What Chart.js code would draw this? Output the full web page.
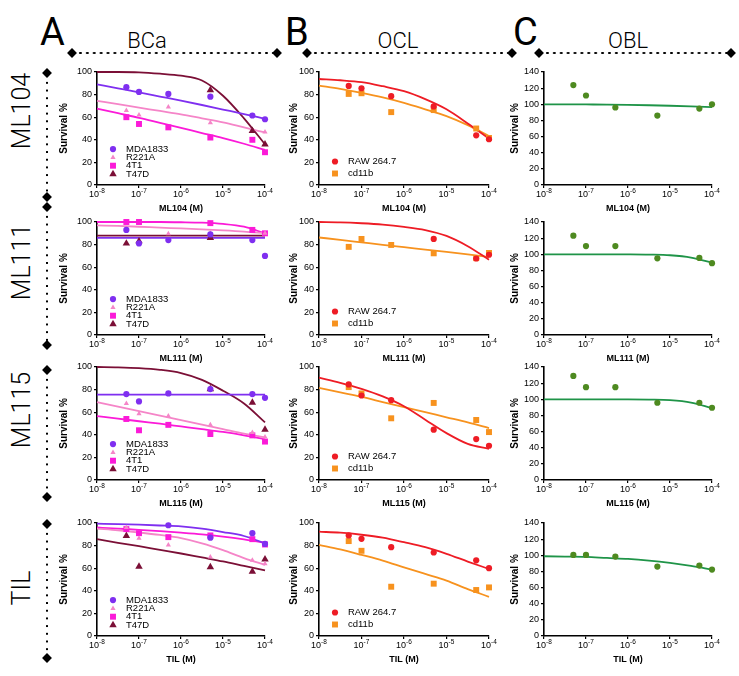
<!DOCTYPE html>
<html>
<head>
<meta charset="utf-8">
<script src="https://cdn.jsdelivr.net/npm/chart.js@4.4.1/dist/chart.umd.min.js"></script>
<style>
  html, body { margin: 0; padding: 0; background: #fff; }
  #fig { position: relative; width: 739px; height: 676px; overflow: hidden; font-family: "Liberation Sans", Arial, sans-serif; }
  .letter { position: absolute; top: 13px; font-family: Roboto, "Liberation Sans", sans-serif; font-size: 38px; line-height: 1; }
  .colhead { position: absolute; top: 40px; font-family: Roboto, "Liberation Sans", sans-serif; font-weight: 300; font-size: 22px; transform: translate(-50%, -50%); }
  .rowhead { position: absolute; left: 21px; font-family: Roboto, "Liberation Sans", sans-serif; font-weight: 300; font-size: 25px; line-height: 1; white-space: nowrap; transform: translate(-50%, -50%) rotate(-90deg); }
  .hdots { position: absolute; height: 4px; background: radial-gradient(circle, #000 1px, transparent 1.5px) 0 0 / 6.9px 4px repeat-x; }
  .vdots { position: absolute; width: 4px; background: radial-gradient(circle, #000 1px, transparent 1.5px) 0 0 / 4px 7.7px repeat-y; }
  .dia { position: absolute; width: 7px; height: 7px; background: #000; transform: translate(-50%, -50%) rotate(45deg); }
</style>
</head>
<body>
<div id="fig"></div>
<script>
// doses (M) and sample points of the fitted curves
const DOSES = [5e-8, 1e-7, 5e-7, 5e-6, 5e-5, 1e-4];
const FIT_X = [1e-8, 3.16e-8, 1e-7, 3.16e-7, 1e-6, 3.16e-6, 1e-5, 3.16e-5, 1e-4];
const X_TICKS = [1e-8, 1e-7, 1e-6, 1e-5, 1e-4];
const X_TICK_EXP = ['-8', '-7', '-6', '-5', '-4'];
const Y_TICKS_100 = [0, 20, 40, 60, 80, 100];
const Y_TICKS_140 = [0, 20, 40, 60, 80, 100, 120, 140];

const DRUGS = ['ML104', 'ML111', 'ML115', 'TIL'];
const PANEL_LETTERS = ['A', 'B', 'C'];
const CELL_GROUPS = ['BCa', 'OCL', 'OBL'];

// survival %, one row per drug (ML104, ML111, ML115, TIL); null = not visible
const MDA1833_PTS = [
  [86.6, 82.4, 80.6, 78.2, 61.5, 58.2],
  [93, 81, 84, 89, 84, 70],
  [76, 69.5, 76.6, 80.5, 76, 72.7],
  [null, null, 98, 87, 91, 81.5]
];
const MDA1833_FIT = [
  [89, 85.5, 82, 78.3, 74.6, 70.8, 66.8, 62.8, 58.6],
  [86, 86, 86, 86, 86, 86, 86, 86, 86],
  [75.5, 75.5, 75.5, 75.5, 75.5, 75.5, 75.5, 75.5, 75.5],
  [99.4, 99, 98.5, 97.8, 97, 95, 92, 88.5, 82]
];
const R221A_PTS = [
  [66, 62, 69, 55, null, 47],
  [null, null, 89.5, 90, null, 90],
  [67.7, 58.7, 56.6, 48.8, 42, 38],
  [96, 86.5, 80.6, 70, 67, 64]
];
const R221A_FIT = [
  [74.5, 71.5, 68.5, 65.5, 62.5, 59, 55.5, 51, 46.5],
  [97, 96.5, 95.8, 95, 94.3, 93.5, 92.6, 91.5, 90],
  [69, 65, 61, 57, 53, 49, 45, 41, 37.7],
  [95, 93.5, 91.6, 89.4, 86.6, 82, 76, 69, 63]
];
const T4T1_PTS = [
  [60, 54, 51, 42, 40, 29],
  [100, 100, null, 99, 93, 90],
  [54, 44, 48.8, 40.7, 39.5, 34],
  [94.6, 91, 87.5, 89, 85.7, 81]
];
const T4T1_FIT = [
  [67.5, 63.5, 59.5, 55, 50.5, 46, 41.5, 36.5, 31],
  [100, 100, 100, 100, 99.8, 99.4, 98.3, 95.8, 90],
  [56.6, 54.3, 52, 49.8, 47.4, 45, 42.5, 39.5, 36],
  [96, 95, 94, 92.8, 91.5, 90, 88, 85.5, 82.5]
];
const T47D_PTS = [
  [null, null, null, 84, 48, 36],
  [81, 83, null, 86, null, null],
  [null, null, null, 80.5, 68.6, 44.6],
  [88.7, 61.5, null, 61, 57, 67.8]
];
const T47D_FIT = [
  [100, 100, 99.7, 98.5, 96.7, 92.5, 79, 59, 36],
  [88, 88, 88, 88, 88, 88, 88, 88, 88],
  [100, 99.7, 99, 97.5, 94.6, 88.6, 79, 67.7, 51],
  [85.7, 82.5, 79.5, 76.2, 73, 69.5, 66, 62, 58]
];
const RAW_PTS = [
  [87.7, 85.6, 78.6, 69.5, 44, 40.5],
  [null, null, null, 85, 67.7, 71],
  [84.6, 74.8, 70.6, 44.5, 36.2, 30.3],
  [89, 86, 78.6, 73.9, 67, 60]
];
const RAW_FIT = [
  [93.8, 92.7, 91, 87.4, 83, 76, 67, 54.5, 41],
  [100, 99.7, 98.9, 97.7, 95.7, 92.9, 87.7, 78.6, 66.6],
  [90.5, 86, 80.7, 74, 65.3, 53.4, 41.5, 32, 27.6],
  [92.3, 91.4, 89.6, 87, 83, 78.6, 72.7, 65.9, 59.3]
];
const CD11B_PTS = [
  [80.6, 81.2, 64.5, 66.3, 50, 41.6],
  [78, 85, 79.7, 72.3, 68, 72.6],
  [82.2, 76.6, 54.6, 68.2, 53.1, 42.4],
  [84, 75.4, 43.6, 46.3, 40.7, 43]
];
const CD11B_FIT = [
  [88, 85, 81.5, 77.5, 72.7, 67, 61, 53, 43.4],
  [86.3, 84.2, 82, 79.8, 77.7, 75.6, 73.5, 71.3, 69],
  [81.6, 77.5, 73.5, 69, 64.5, 60, 55.5, 51, 46],
  [80.7, 76.6, 71.8, 66.8, 60.8, 54.9, 49, 41.5, 34.7]
];
const OBL_PTS = [
  [123.8, 110.9, 96, 86, 94.7, 100],
  [123, 110.2, 110.2, 95, 95.5, 89],
  [129, 115, 115, 95.7, 95.7, 89.5],
  [100.4, 100.4, 98.4, 86, 87.2, 82.3]
];
const OBL_FIT = [
  [100, 100, 99.8, 99.6, 99.3, 98.8, 98.2, 97.4, 96.5],
  [100, 100, 100, 100, 99.9, 99.6, 98.8, 96, 89.5],
  [100, 100, 100, 100, 99.9, 99.6, 98.9, 96, 89],
  [98.8, 98.4, 98, 96.7, 95.5, 93.4, 90.5, 86.8, 82.3]
];

const STYLE = {
  'MDA1833':   { color: '#7f2ff0', point: 'circle', r: 3.1 },
  'R221A':     { color: '#f585c8', point: 'triangle', r: 3 },
  '4T1':       { color: '#fb1ad8', point: 'rect', r: 4.2 },
  'T47D':      { color: '#7b0f36', point: 'triangle', r: 4.3 },
  'RAW 264.7': { color: '#ee1c25', point: 'circle', r: 3.1 },
  'cd11b':     { color: '#f7921e', point: 'rect', r: 4.2 },
  'OBL':       { color: '#4e8a20', line: '#1f9448', point: 'circle', r: 3.1 }
};

// layout of the plot areas
const COL_LEFT = [97, 319, 544];
const COL_WIDTH = [168, 170, 168];
const ROW_TOP = [72, 222, 367, 523];
const PLOT_H = 113;
const Y_BOX = 45, X_BOX = 32, PAD_TOP = 8, PAD_RIGHT = 14;
const Y_TITLE_PAD = [6, 14, 10];

const fig = document.getElementById('fig');
Chart.defaults.font.family = '"Liberation Sans", Arial, sans-serif';
Chart.defaults.color = '#000';

function el(cls, css, text) {
  const d = document.createElement('div');
  d.className = cls;
  d.style.cssText = css;
  if (text) d.textContent = text;
  fig.appendChild(d);
  return d;
}

// header letters, titles and dotted rules
[40, 285, 513].forEach((x, i) => el('letter', `left:${x}px`, PANEL_LETTERS[i]));
[147, 398, 628].forEach((x, i) => el('colhead', `left:${x}px`, CELL_GROUPS[i]));
[111, 262, 410, 588].forEach((y, i) => el('rowhead', `top:${y}px`, DRUGS[i]));
[[72, 277], [307, 512], [539, 731]].forEach(([a, b]) => {
  el('hdots', `left:${a + 5}px;top:51px;width:${b - a - 8}px`);
  el('dia', `left:${a}px;top:53px`);
  el('dia', `left:${b}px;top:53px`);
});
[[73, 197], [207, 345], [370, 497], [524, 658]].forEach(([a, b]) => {
  el('vdots', `left:45px;top:${a + 6}px;height:${b - a - 10}px`);
  el('dia', `left:47px;top:${a}px`);
  el('dia', `left:47px;top:${b}px`);
});

function seriesDatasets(name, pts, fit) {
  const st = STYLE[name];
  return [
    {
      type: 'scatter', label: name, inLegend: true,
      data: DOSES.map((x, i) => ({ x, y: pts[i] })).filter(p => p.y !== null),
      pointStyle: st.point, pointRadius: st.r, backgroundColor: st.color,
      borderWidth: 0, pointBorderWidth: 0, clip: false, order: 0
    },
    {
      type: 'line', label: name + ' fit',
      data: FIT_X.map((x, i) => ({ x, y: fit[i] })),
      borderColor: st.line || st.color, borderWidth: 1.8, pointRadius: 0,
      cubicInterpolationMode: 'monotone', fill: false, clip: false, order: 1
    }
  ];
}

function drawMarker(ctx, style, x, y, r, color) {
  ctx.save();
  ctx.fillStyle = color;
  ctx.beginPath();
  if (style === 'rect') {
    const s = Math.SQRT1_2 * r;
    ctx.rect(x - s, y - s, 2 * s, 2 * s);
  } else if (style === 'triangle') {
    for (let k = 0; k < 3; k++) {
      const a = k * 2 * Math.PI / 3;
      ctx[k ? 'lineTo' : 'moveTo'](x + Math.sin(a) * r, y - Math.cos(a) * r);
    }
    ctx.closePath();
  } else {
    ctx.arc(x, y, r, 0, 2 * Math.PI);
  }
  ctx.fill();
  ctx.restore();
}

// legend drawn inside the plot area, bottom left
const insideLegend = {
  id: 'insideLegend',
  afterDatasetsDraw(chart, args, opts) {
    if (!opts.show) return;
    const { ctx, chartArea } = chart;
    const items = chart.data.datasets.filter(d => d.inLegend);
    ctx.save();
    ctx.font = '9.5px "Liberation Sans", Arial, sans-serif';
    ctx.textBaseline = 'middle';
    items.forEach((d, i) => {
      const y = chartArea.bottom - opts.bottom - (items.length - 1 - i) * opts.step;
      drawMarker(ctx, d.pointStyle, chartArea.left + 16, y, d.pointRadius, d.backgroundColor);
      ctx.fillStyle = '#000';
      ctx.fillText(d.label, chartArea.left + 29, y);
    });
    ctx.restore();
  }
};

// "10" with a raised exponent under each decade tick
const decadeLabels = {
  id: 'decadeLabels',
  afterDraw(chart) {
    const { ctx } = chart;
    const s = chart.scales.x;
    ctx.save();
    ctx.fillStyle = '#000';
    ctx.textBaseline = 'alphabetic';
    X_TICKS.forEach((v, i) => {
      const px = s.getPixelForValue(v);
      ctx.font = '9px "Liberation Sans", Arial, sans-serif';
      const wBase = ctx.measureText('10').width;
      ctx.font = '6.5px "Liberation Sans", Arial, sans-serif';
      const wExp = ctx.measureText(X_TICK_EXP[i]).width;
      const x0 = px - (wBase + wExp) / 2;
      const base = s.top + 12;
      ctx.font = '9px "Liberation Sans", Arial, sans-serif';
      ctx.fillText('10', x0, base);
      ctx.font = '6.5px "Liberation Sans", Arial, sans-serif';
      ctx.fillText(X_TICK_EXP[i], x0 + wBase, base - 4);
    });
    ctx.restore();
  }
};

function makePanel(row, col, datasets, yMax, yTicks, legend) {
  const canvas = document.createElement('canvas');
  const w = Y_BOX + COL_WIDTH[col] + PAD_RIGHT;
  const h = PAD_TOP + PLOT_H + X_BOX;
  canvas.width = w;
  canvas.height = h;
  canvas.style.cssText = `position:absolute;left:${COL_LEFT[col] - Y_BOX}px;top:${ROW_TOP[row] - PAD_TOP}px;width:${w}px;height:${h}px`;
  fig.appendChild(canvas);

  const axisGrid = { display: true, drawOnChartArea: false, drawTicks: true, tickLength: 3, color: '#000', lineWidth: 1.2 };
  new Chart(canvas, {
    data: { datasets },
    options: {
      responsive: false,
      animation: false,
      events: [],
      layout: { padding: { top: PAD_TOP, right: PAD_RIGHT, left: 0, bottom: 0 } },
      plugins: {
        legend: { display: false },
        tooltip: { enabled: false },
        insideLegend: legend || { show: false }
      },
      scales: {
        x: {
          type: 'logarithmic', min: 1e-8, max: 1e-4,
          afterBuildTicks: s => { s.ticks = X_TICKS.map(v => ({ value: v })); },
          afterFit: s => { s.height = X_BOX; s.paddingLeft = 0; s.paddingRight = 0; },
          ticks: { display: false, autoSkip: false },
          grid: axisGrid,
          border: { display: true, color: '#000', width: 1.6 },
          title: { display: true, text: DRUGS[row] + ' (M)', font: { size: 9, weight: 'bold' }, padding: { top: 0, bottom: 2.6 } }
        },
        y: {
          type: 'linear', min: 0, max: yMax,
          afterBuildTicks: s => { s.ticks = yTicks.map(v => ({ value: v })); },
          afterFit: s => { s.width = Y_BOX; s.paddingTop = 0; s.paddingBottom = 0; },
          ticks: { padding: 2, font: { size: 9 } },
          grid: axisGrid,
          border: { display: true, color: '#000', width: 1.6 },
          title: { display: true, text: 'Survival %', font: { size: 10, weight: 'bold' }, padding: { top: Y_TITLE_PAD[col], bottom: 0 } }
        }
      }
    },
    plugins: [insideLegend, decadeLabels]
  });
}

DRUGS.forEach((drug, r) => {
  const bca = [].concat(
    seriesDatasets('MDA1833', MDA1833_PTS[r], MDA1833_FIT[r]),
    seriesDatasets('R221A', R221A_PTS[r], R221A_FIT[r]),
    seriesDatasets('4T1', T4T1_PTS[r], T4T1_FIT[r]),
    seriesDatasets('T47D', T47D_PTS[r], T47D_FIT[r])
  );
  makePanel(r, 0, bca, 100, Y_TICKS_100, { show: true, step: 8.3, bottom: 11 });

  const ocl = [].concat(
    seriesDatasets('RAW 264.7', RAW_PTS[r], RAW_FIT[r]),
    seriesDatasets('cd11b', CD11B_PTS[r], CD11B_FIT[r])
  );
  makePanel(r, 1, ocl, 100, Y_TICKS_100, { show: true, step: 12, bottom: 11.5 });

  const obl = seriesDatasets('OBL', OBL_PTS[r], OBL_FIT[r]);
  makePanel(r, 2, obl, 140, Y_TICKS_140, null);
});
</script>
</body>
</html>
